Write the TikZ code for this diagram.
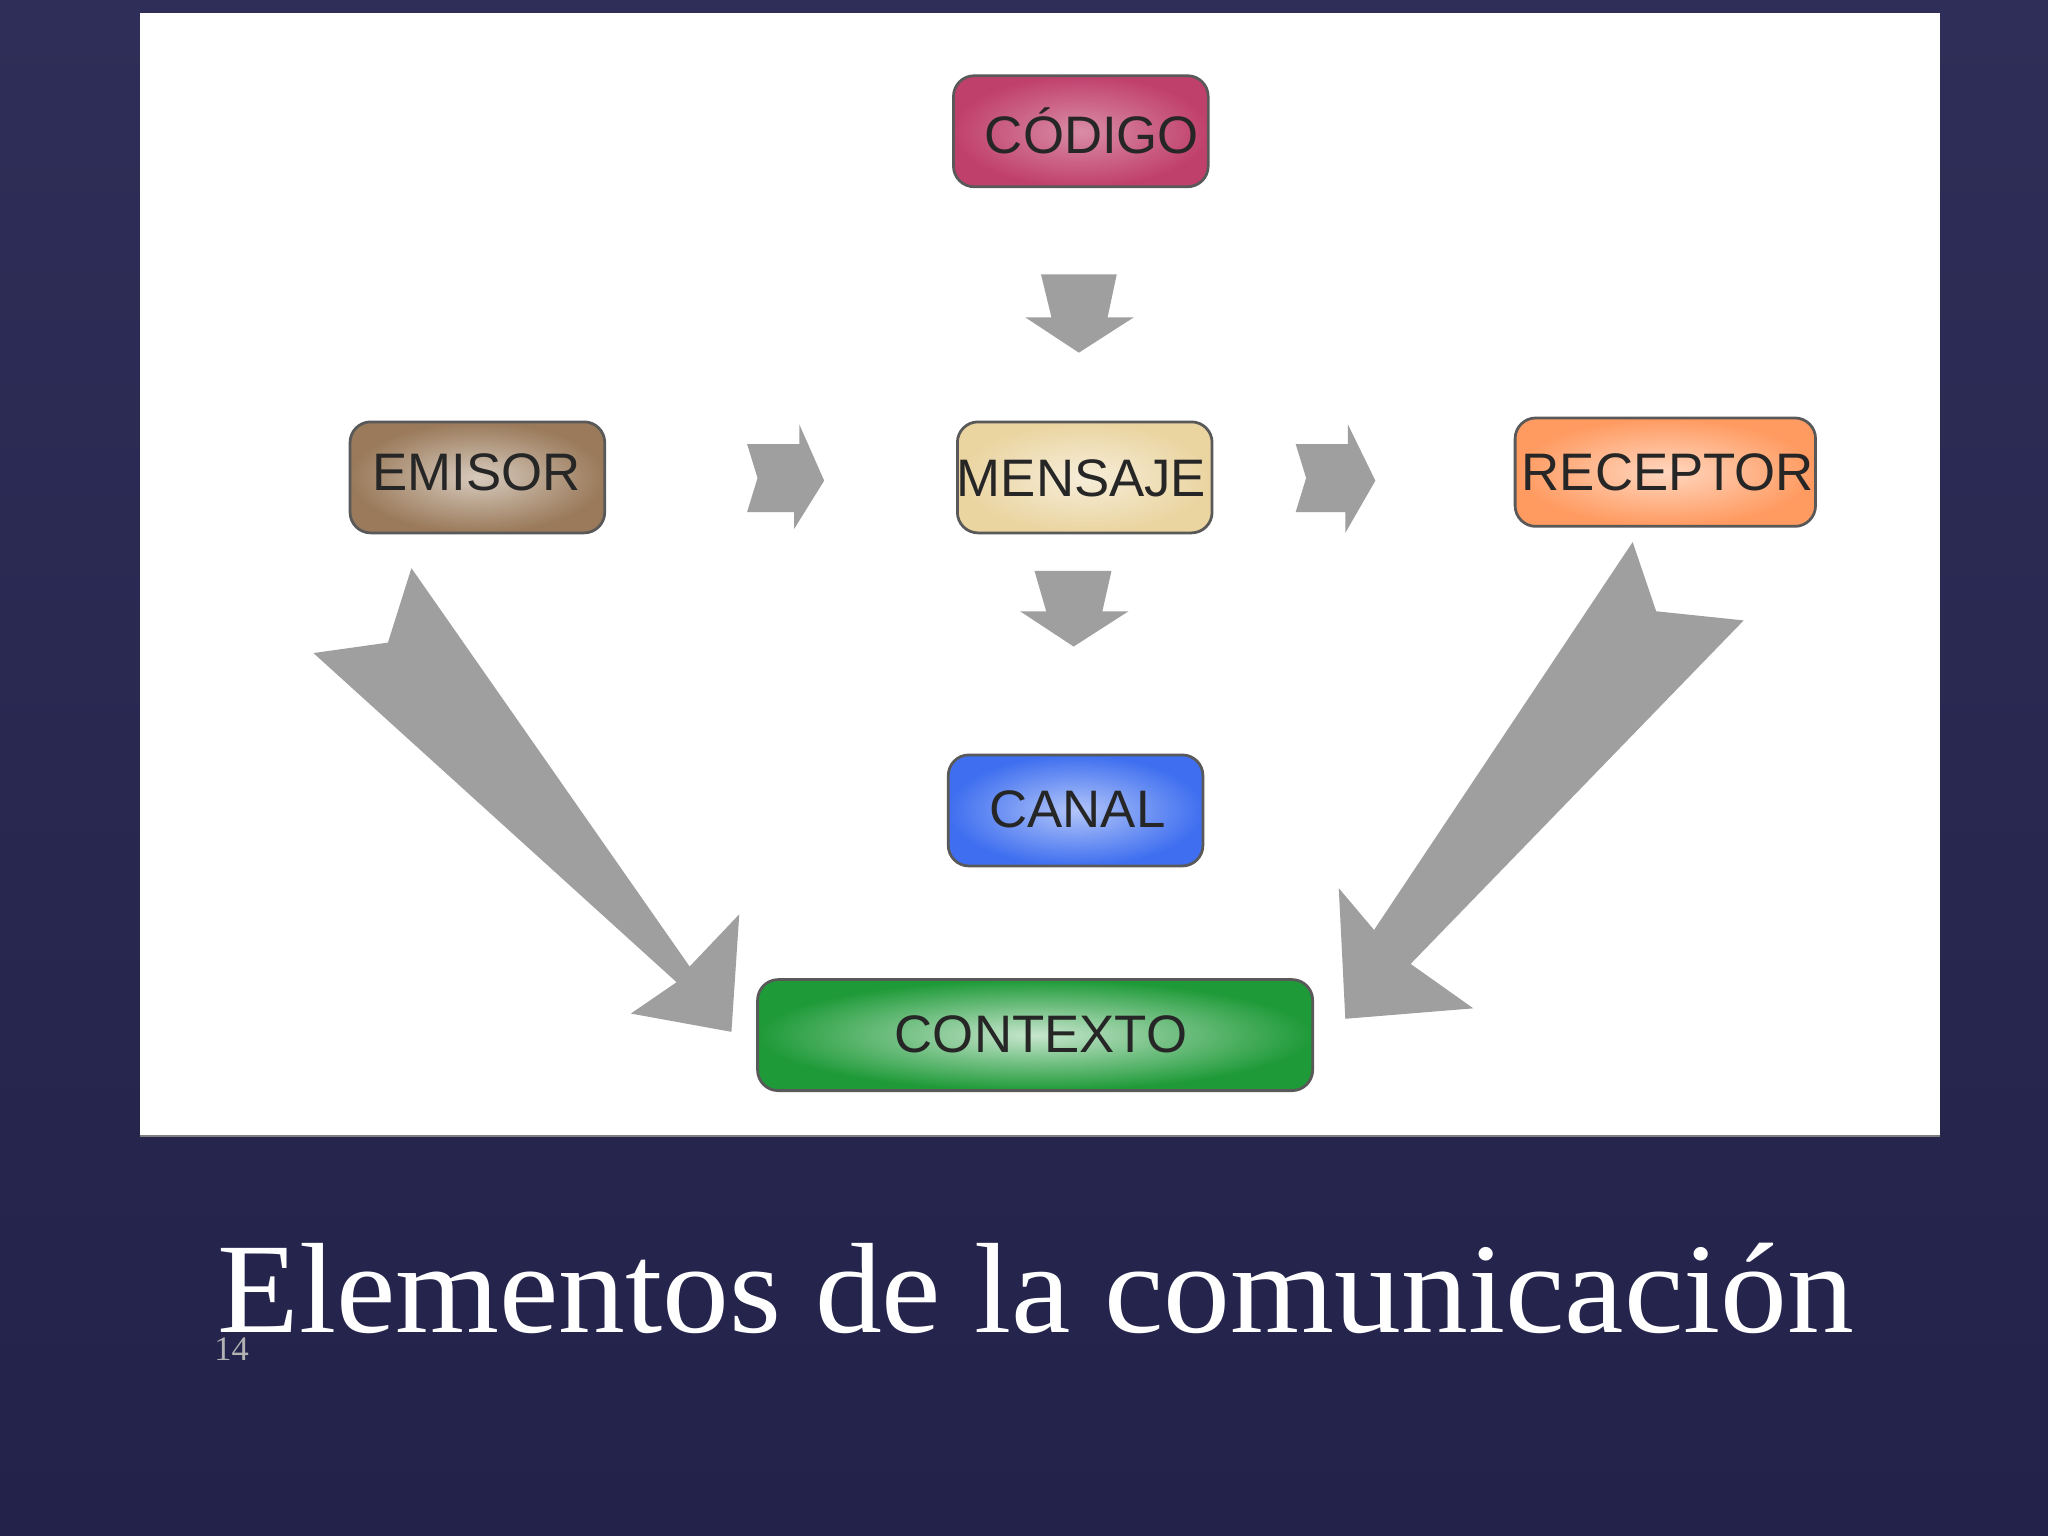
\documentclass[tikz,border=0pt]{standalone}
\usepackage{fontspec}
\setmainfont{Liberation Serif}
\newfontfamily\boxfont{Liberation Sans}
\definecolor{bgtop}{HTML}{2E2E58}
\definecolor{bgbot}{HTML}{22224A}
\definecolor{codc}{HTML}{C0406C}
\definecolor{emic}{HTML}{9A7A5A}
\definecolor{menc}{HTML}{EAD4A0}
\definecolor{recc}{HTML}{FF9A60}
\definecolor{canc}{HTML}{3F6FF0}
\definecolor{conc}{HTML}{1E9A38}
\begin{document}
\begin{tikzpicture}[x=0.02cm,y=-0.02cm,
  elem/.style={rounded corners=9pt,draw=gray!70!black,line width=1.2pt},
  lbl/.style={font=\boxfont\fontsize{23}{26}\selectfont,text=black!85},
  garrow/.style={fill=gray!75,draw=none}]
\shade[top color=bgtop, bottom color=bgbot] (0,0) rectangle (1568,1176);
\useasboundingbox (0,0) rectangle (1568,1176);
\fill[white] (107,10) rectangle (1485,870);
\draw[gray,line width=1pt] (107,870) -- (1485,870);
\shade[elem,inner color=codc!60!white,outer color=codc] (730,58) rectangle (925,143);
\node[lbl] (cod) at (836,100) {CÓDIGO};
\shade[elem,inner color=emic!40!white,outer color=emic] (268,323) rectangle (463,408);
\node[lbl] (emi) at (365,362) {EMISOR};
\shade[elem,inner color=menc!40!white,outer color=menc] (733,323) rectangle (928,408);
\node[lbl] (men) at (828,366) {MENSAJE};
\shade[elem,inner color=recc!40!white,outer color=recc] (1160,320) rectangle (1390,403);
\node[lbl] (rec) at (1277,362) {RECEPTOR};
\shade[elem,inner color=canc!40!white,outer color=canc] (726,578) rectangle (921,663);
\node[lbl] (can) at (825,620) {CANAL};
\shade[elem,inner color=conc!25!white,outer color=conc] (580,750) rectangle (1005,835);
\node[lbl] (con) at (797,792) {CONTEXTO};
% small arrows
\fill[garrow] (797,210) -- (855,210) -- (848,243) -- (868,243) -- (826,270) -- (785,243) -- (805,243) -- cycle;
\fill[garrow] (792,437) -- (851,437) -- (844,468) -- (864,468) -- (822,495) -- (781,468) -- (801,468) -- cycle;
\fill[garrow] (572,340) -- (612,340) -- (612,325) -- (631,368) -- (608,405) -- (608,392) -- (572,392) -- (580,366) -- cycle;
\fill[garrow] (992,340) -- (1032,340) -- (1032,325) -- (1053,368) -- (1030,408) -- (1030,392) -- (992,392) -- (1000,366) -- cycle;
% big arrows
\fill[garrow] (315,435) -- (528,740) -- (566,700) -- (560,790) -- (483,776) -- (518,752) -- (240,500) -- (297,492) -- cycle;
\fill[garrow] (1250,415) -- (1268,468) -- (1335,475) -- (1080,738) -- (1128,772) -- (1030,780) -- (1025,680) -- (1052,712) -- cycle;
% title
\node[anchor=base west,text=white,font=\fontsize{56}{62}\selectfont,xscale=1.04,transform shape] (title) at (160,1020) {Elementos de la comunicación};
\node[anchor=base west,text=gray!60,font=\fontsize{15}{18}\selectfont] (pg) at (158,1042) {14};
\end{tikzpicture}
\end{document}
